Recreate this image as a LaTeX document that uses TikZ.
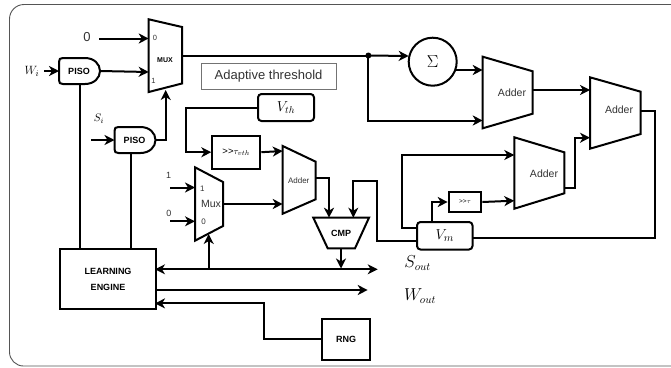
\documentclass[tikz,border=0pt]{standalone}
\usepackage{fontspec}
\setmainfont{Liberation Sans}
\usetikzlibrary{arrows.meta,calc}
\definecolor{frameg}{HTML}{555555}
\definecolor{txtg}{HTML}{333333}
\tikzset{
  wire/.style={line width=2pt,black,line join=miter},
  arr/.style={wire,-{Stealth[length=10pt,width=10pt,inset=3pt]}},
  darr/.style={wire,{Stealth[length=10pt,width=10pt,inset=3pt]}-{Stealth[length=10pt,width=10pt,inset=3pt]}},
  blockline/.style={line width=2pt,black,line join=miter},
  sq/.style={draw,line width=2pt,black,inner sep=0pt,anchor=north west},
  rnd/.style={sq,rounded corners=3.5pt},
  lab/.style={inner sep=0pt,text=txtg},
  bold/.style={inner sep=0pt,font=\bfseries\fontsize{9}{10}\selectfont,align=center,text=black},
  addertext/.style={lab,font=\fontsize{10.5}{12}\selectfont},
}
\newcommand{\pisoat}[3]{%
  \draw[blockline] (#2+4,#3) -- (#2+26,#3) .. controls (#2+35,#3) and (#2+41,#3+6) .. (#2+41,#3+13)
     .. controls (#2+41,#3+20) and (#2+35,#3+26) .. (#2+26,#3+26) -- (#2+4,#3+26)
     .. controls (#2+1,#3+26) and (#2,#3+25) .. (#2,#3+22) -- (#2,#3+4) .. controls (#2,#3+1) and (#2+1,#3) .. (#2+4,#3) -- cycle;
  \node[bold] (#1) at (#2+20,#3+13) {PISO};
  \coordinate (#1W) at (#2,#3+13);
  \coordinate (#1E) at (#2+41,#3+13);
  \coordinate (#1S) at (#2+16.5,#3+26);
}
\begin{document}
\begin{tikzpicture}[x=1pt,y=-1pt]
\useasboundingbox (0,0) rectangle (671,367);
\fill[white] (0,0) rectangle (671,367);
% frame
\draw[frameg,line width=0.9pt] (671,4.5) -- (24,4.5) arc[start angle=90,end angle=180,x radius=14.5pt,y radius=14.5pt]
   -- (9.5,352) arc[start angle=180,end angle=270,x radius=14pt,y radius=14pt] -- (671,366);

% multiplexer top
\draw[blockline] (148.7,19.3) -- (182,27) -- (182,83.5) -- (148.7,92) -- cycle;
\node[bold,font=\bfseries\fontsize{7}{8}\selectfont] (muxT) at (165,60) {MUX};
\node[lab,font=\fontsize{7.5}{8}\selectfont] (muxTz) at (155,38) {0};
\node[lab,font=\fontsize{7.5}{8}\selectfont] (muxTo) at (153.5,81) {1};
\coordinate (muxTa) at (148.7,38.5);
\coordinate (muxTb) at (148.7,72);
\coordinate (muxTb2) at (165.7,90);
\coordinate (muxTout) at (182,55.5);

\node[lab,font=\fontsize{13}{14}\selectfont] (zero) at (87,37) {0};
\coordinate (zeroE) at (99,38.5);
\node[lab,font=\fontsize{13}{14}\selectfont,text=black] (wi) at (32,71.5) {$W_i$};
\coordinate (wiE) at (44,71);
\node[lab,font=\fontsize{11}{12}\selectfont,text=black] (si) at (99,119) {$S_i$};
\coordinate (siE) at (91,140);

\pisoat{pisoA}{59}{58}
\pisoat{pisoB}{114.5}{127}

% adaptive threshold
\node[sq,draw=black!55,line width=0.7pt,minimum width=135pt,minimum height=25.7pt,font=\fontsize{13}{14}\selectfont,text=txtg] (adapt) at (200.7,63.3) {Adaptive threshold};

\node[rnd,minimum width=56pt,minimum height=27pt] (vth) at (257,93) {\fontsize{14}{15}\selectfont$V_{th}$};
\node[sq,minimum width=48pt,minimum height=33pt] (shiftv) at (211.3,134.7) {\fontsize{9.5}{11}\selectfont >{}>$\tau_{vth}$};

% small adder
\draw[blockline] (282.7,146) -- (315.7,161.7) -- (315.7,199.3) -- (282.7,213.7) -- cycle;
\node[addertext,font=\fontsize{8}{9}\selectfont] (addS) at (298.7,181) {Adder};
\coordinate (addSa) at (282.7,151);
\coordinate (addSb) at (282.7,204);
\coordinate (addSout) at (315.7,178);

% small mux
\draw[blockline] (195,167.3) -- (223,182) -- (223,226) -- (195,240.7) -- cycle;
\node[lab,font=\fontsize{8}{9}\selectfont] (muxSo) at (202.3,188.5) {1};
\node[lab,font=\fontsize{10.5}{12}\selectfont] (muxS) at (211,204) {Mux};
\node[lab,font=\fontsize{8}{9}\selectfont] (muxSz) at (203.5,221.5) {0};
\coordinate (muxSa) at (195,187.5);
\coordinate (muxSb) at (195,221.3);
\coordinate (muxSout) at (223,204);
\coordinate (muxSbot) at (208.7,234);
\node[lab,font=\fontsize{9}{10}\selectfont] (one) at (168.7,175) {1};
\node[lab,font=\fontsize{9}{10}\selectfont] (nil) at (169,213.7) {0};
\coordinate (oneE) at (170,187.5);
\coordinate (nilE) at (170,221.3);

% CMP
\draw[blockline] (313.3,217.7) -- (369,217.7) -- (355,248.3) -- (327.7,248.3) -- cycle;
\node[bold] (cmp) at (341,233) {CMP};
\coordinate (cmpa) at (329,217.7);
\coordinate (cmpb) at (353.3,217.7);
\coordinate (cmpout) at (341,248.3);

% Vm
\node[rnd,minimum width=55.5pt,minimum height=27.5pt] (vm) at (416,221) {\fontsize{15}{16}\selectfont$V_m$};
\coordinate (vmT) at (432.3,221);
\coordinate (vmLa) at (416,228.3);
\coordinate (vmLb) at (416,240.7);
\coordinate (vmR) at (471.5,238.3);
\node[sq,minimum width=32.7pt,minimum height=20pt] (shiftm) at (447.7,191) {\fontsize{6.5}{7}\selectfont >{}>$\tau$};

% Sigma
\node[draw,circle,line width=2pt,minimum size=48pt,inner sep=0pt,font=\fontsize{18}{20}\selectfont] (sum) at (432.7,61.7) {$\Sigma$};
\coordinate (sumin) at (408.7,56);
\coordinate (sumout) at (456,70);

% Adder 1
\draw[blockline] (482.7,56.7) -- (532.7,71.3) -- (532.7,113.7) -- (482.7,128.3) -- cycle;
\node[addertext] (addA) at (512,93) {Adder};
\coordinate (addAa) at (482.7,70);
\coordinate (addAb) at (482.7,120.5);
\coordinate (addAout) at (532.7,90);
% Adder 2
\draw[blockline] (590,77.3) -- (640.7,91.7) -- (640.7,134) -- (590,148.7) -- cycle;
\node[addertext] (addB) at (619,109.5) {Adder};
\coordinate (addBa) at (590,90);
\coordinate (addBb) at (590,137.7);
\coordinate (addBout) at (640.7,110.5);
% Adder 3
\draw[blockline] (514.3,137.3) -- (564.3,152.3) -- (564.3,193.3) -- (514.3,208.7) -- cycle;
\node[addertext] (addC) at (544,174) {Adder};
\coordinate (addCa) at (514.3,155);
\coordinate (addCb) at (514.3,200.7);
\coordinate (addCout) at (564.3,188);

% learning engine, RNG
\node[sq,minimum width=96pt,minimum height=60pt,font=\bfseries\fontsize{9}{16.5}\selectfont,align=center] (le) at (59,248.3) {LEARNING\\ENGINE};
\coordinate (leA) at (155,269.3);
\coordinate (leB) at (155,290);
\coordinate (leC) at (155,303.4);
\coordinate (busE) at (377.7,269.3);
\coordinate (woutE) at (367.7,290);
\node[sq,minimum width=48pt,minimum height=40.7pt,font=\bfseries\fontsize{9}{10}\selectfont] (rng) at (321,318) {RNG};
\node[lab,text=black,font=\fontsize{16}{17}\selectfont] (sout) at (417.7,263) {$S_{out}$};
\node[lab,text=black,font=\fontsize{16}{17}\selectfont] (wout) at (420,296) {$W_{out}$};

% connectors
\draw[arr] (zeroE) -- (muxTa);
\draw[arr] (wiE) -- (pisoAW);
\draw[arr] (pisoAE) -- (muxTb);
\draw[arr] (siE) -- (pisoBW);
\draw[arr] (pisoBE) -| (muxTb2);
\draw[wire] (muxTout) -- (368.4,55.5) coordinate (junction);
\fill (junction) circle (3pt);
\draw[arr] (junction) -- (sumin);
\draw[arr] (junction) |- (addAb);
\draw[arr] (sumout) -- (addAa);
\draw[arr] (addAout) -- (addBa);
\draw[wire] (addBout) -- (654.7,110.5) |- (vmR);
\draw[arr] (addCout) -- (575,188) |- (addBb);
\draw[arr] (vmLa) -- (401.7,228.3) |- (addCa);
\draw[arr] (vmT) |- (shiftm.west);
\draw[arr] (shiftm.east) -- (addCb);
\draw[arr] (vmLb) -- (376.7,240.7) |- (353.3,181) -- (cmpb);
\draw[arr] (vth.west |- 0,107.5) -- (186,107.5) |- (shiftv.west);
\draw[arr] (shiftv.east) -- (addSa);
\draw[arr] (muxSout) -- (addSb);
\draw[arr] (addSout) -| (cmpa);
\draw[arr] (oneE) -- (muxSa);
\draw[arr] (nilE) -- (muxSb);
\draw[darr] (leA) -- (busE);
\draw[arr] (208.7,269.3) -- (muxSbot);
\draw[arr] (cmpout) -- (341,268.5);
\draw[arr] (leB) -- (woutE);
\draw[arr] (rng.west) -| (264,303.4) -- (leC);
\draw[wire] (79.5,84) -- (79.5,248.3);
\draw[wire] (pisoBS) -- (pisoBS |- le.north);
\end{tikzpicture}
\end{document}
